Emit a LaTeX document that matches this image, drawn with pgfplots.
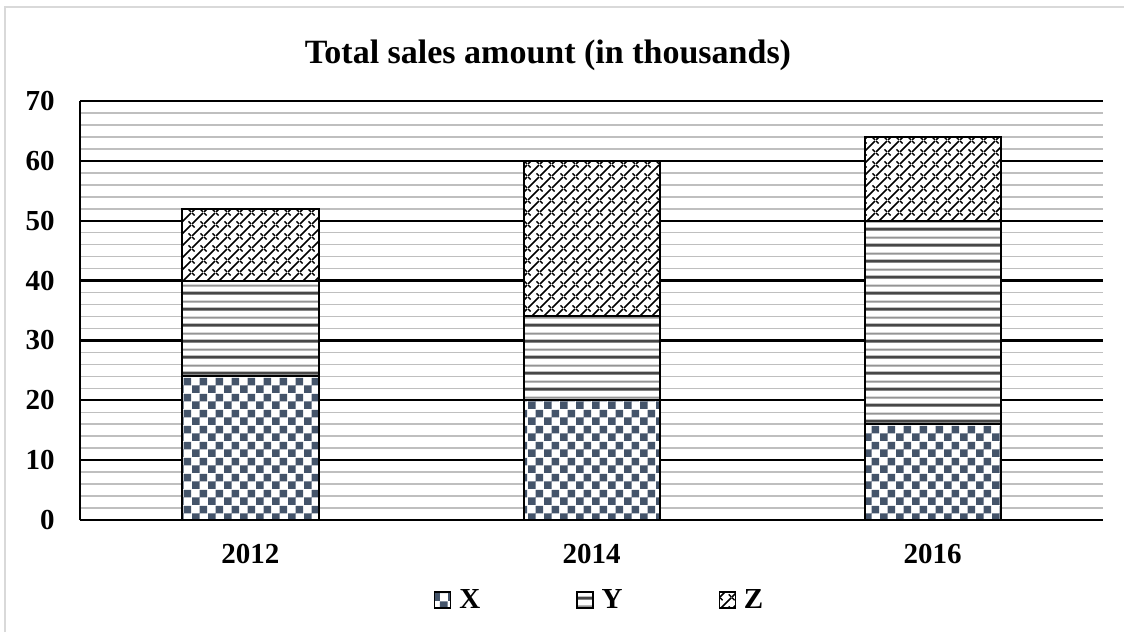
\documentclass[border=0pt]{standalone}
\usepackage{fontspec}
\setmainfont{Liberation Serif}
\usepackage{pgfplots}
\pgfplotsset{compat=1.18}
\usetikzlibrary{patterns,patterns.meta,calc}
\definecolor{xcol}{HTML}{44546A}
\definecolor{mingrid}{HTML}{BFBFBF}
\definecolor{bordercol}{HTML}{D9D9D9}

\pgfdeclarepattern{
  name=xcheck, type=uncolored,
  bottom left={\pgfpointorigin}, top right={\pgfqpoint{8pt}{8pt}},
  tile size={\pgfqpoint{8pt}{8pt}},
  code={
    \pgfpathrectangle{\pgfpointorigin}{\pgfqpoint{4pt}{4pt}}
    \pgfpathrectangle{\pgfqpoint{4pt}{4pt}}{\pgfqpoint{4pt}{4pt}}
    \pgfusepath{fill}
  }
}
\pgfdeclarepattern{
  name=yhlines, type=colored,
  bottom left={\pgfpointorigin}, top right={\pgfqpoint{8pt}{8pt}},
  tile size={\pgfqpoint{8pt}{8pt}},
  code={
    \pgfsetlinewidth{1.6pt}\pgfsetstrokecolor{black!72}
    \pgfpathmoveto{\pgfqpoint{0pt}{1.5pt}}\pgfpathlineto{\pgfqpoint{8pt}{1.5pt}}\pgfusepath{stroke}
    \pgfsetlinewidth{1pt}\pgfsetstrokecolor{black!42}
    \pgfpathmoveto{\pgfqpoint{0pt}{5.5pt}}\pgfpathlineto{\pgfqpoint{8pt}{5.5pt}}\pgfusepath{stroke}
  }
}
\pgfdeclarepattern{
  name=ztrellis, type=uncolored,
  bottom left={\pgfpointorigin}, top right={\pgfqpoint{6pt}{6pt}},
  tile size={\pgfqpoint{6pt}{6pt}},
  code={
    \pgfsetlinewidth{0.9pt}
    \pgfpathmoveto{\pgfqpoint{0pt}{0pt}}\pgfpathlineto{\pgfqpoint{6pt}{6pt}}\pgfusepath{stroke}
    \pgfsetlinewidth{0.8pt}
    \pgfpathmoveto{\pgfqpoint{0pt}{6pt}}\pgfpathlineto{\pgfqpoint{1.4pt}{4.6pt}}\pgfusepath{stroke}
    \pgfpathmoveto{\pgfqpoint{4.6pt}{1.4pt}}\pgfpathlineto{\pgfqpoint{6pt}{0pt}}\pgfusepath{stroke}
  }
}

\begin{document}
\begin{tikzpicture}[x=1pt,y=1pt]
\begin{axis}[
  scale only axis, width=511.5pt, height=209.5pt,
  ybar stacked, bar width=68pt,
  xmin=-0.5, xmax=2.5, ymin=0, ymax=70,
  xtick={0,1,2}, xticklabels={2012,2014,2016},
  ytick={0,10,...,70}, minor y tick num=4,
  ymajorgrids, yminorgrids,
  major grid style={black, line width=1.2pt},
  minor grid style={mingrid, line width=0.75pt},
  axis x line*=bottom, axis y line*=left,
  axis line style={line width=1.2pt, -},
  major tick length=0pt, minor tick length=0pt,
  tick style={draw=none},
  tick label style={font=\bfseries\fontsize{14.5}{16}\selectfont},
  /pgf/number format/assume math mode=true,
  yticklabel style={inner sep=0pt, xshift=-12.5pt},
  xticklabel style={inner sep=0pt, yshift=-12pt},
  legend style={at={(0.509,-0.191)}, anchor=center, draw=none,
    font=\bfseries\fontsize{14.5}{16}\selectfont,
    /tikz/every even column/.append style={column sep=46pt}},
  legend columns=3,
  legend image code/.code={\draw[#1, line width=0.6pt] (0pt,-4pt) rectangle (8pt,4pt);},
]
\addplot[draw=black, line width=1pt, fill=white, postaction={pattern=xcheck, pattern color=xcol}] coordinates {(0,24) (1,20) (2,16)};
\addplot[draw=black, line width=1pt, fill=white, postaction={pattern=yhlines}] coordinates {(0,16) (1,14) (2,34)};
\addplot[draw=black, line width=1pt, fill=white, postaction={pattern=ztrellis, pattern color=black}] coordinates {(0,12) (1,26) (2,14)};
\legend{\hspace{2pt}X,\hspace{2pt}Y,\hspace{2pt}Z}
\coordinate (sw) at (rel axis cs:0,0);
\end{axis}
\pgfresetboundingbox
\path[use as bounding box] ($(sw)+(-40,-56)$) rectangle ($(sw)+(522,260)$);
\draw[bordercol, line width=0.8pt] ($(sw)+(-37.5,-56)$) -- ($(sw)+(-37.5,256.5)$) -- ($(sw)+(522,256.5)$);
\node[font=\bfseries\fontsize{17}{20}\selectfont] at ($(sw)+(234,232.5)$) {Total sales amount (in thousands)};
\end{tikzpicture}
\end{document}
